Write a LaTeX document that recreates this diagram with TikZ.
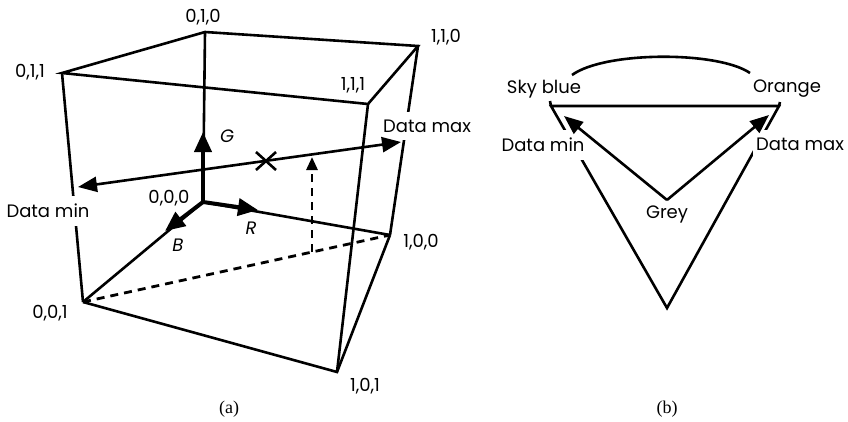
\documentclass[tikz,border=0pt]{standalone}
\usepackage{fontspec}
\setmainfont{Poppins}
\newfontfamily\capfont{Liberation Serif}
\usetikzlibrary{arrows.meta,calc}
\begin{document}
\begin{tikzpicture}[x=1pt,y=-1pt,
  lbl/.style={font=\fontsize{18}{21}\selectfont, inner sep=0pt},
  ilbl/.style={font=\fontsize{18}{21}\selectfont\itshape, inner sep=0pt},
  gaplbl/.style={lbl, fill=white, inner xsep=3pt, inner ysep=8pt},
  caplbl/.style={font=\capfont\fontsize{18}{21}\selectfont, inner sep=0pt},
  edge/.style={line width=2.6pt},
  dashedge/.style={line width=2.8pt, dash pattern=on 8pt off 6pt},
  axisarrow/.style={line width=4pt, -{Triangle[length=20pt,width=17pt]}},
  dataarrow/.style={line width=2.6pt, {Triangle[length=19pt,width=15pt]}-{Triangle[length=19pt,width=15pt]}},
  singlearrow/.style={line width=2.6pt, -{Triangle[length=19pt,width=15pt]}},
  smallarrow/.style={dashedge, -{Triangle[length=13pt,width=11pt]}}
]
\useasboundingbox (0,0) rectangle (848,421);
% ---------- panel (a) ----------
\coordinate (v010) at (205,32);
\coordinate (v110) at (418,46);
\coordinate (v011) at (62,73);
\coordinate (v111) at (368,104);
\coordinate (v000) at (203,202);
\coordinate (v100) at (390,235);
\coordinate (v001) at (83,302);
\coordinate (v101) at (337,372);
\coordinate (gtip) at (203,132);
\coordinate (rtip) at (258,210);
\coordinate (btip) at (165,231);
\coordinate (dmin) at (78,187);
\coordinate (dmax) at (401,142);
\coordinate (cross) at (266,161);
\coordinate (pfoot) at (312,252);
\coordinate (ptop) at (312,157);

\draw[edge] (v011) -- (v010) -- (v110) -- (v111) -- cycle;
\draw[edge] (v001) -- (v101) -- (v100);
\draw[edge] (v011) -- (v001);
\draw[edge] (v111) -- (v101);
\draw[edge] (v110) -- (v100);
\draw[edge] (v010) -- (v000) -- (v100);
\draw[edge] (v000) -- (v001);
\draw[dashedge] (v001) -- (v100);
\draw[smallarrow] (pfoot) -- (ptop);

\node[gaplbl] (ldmin) at (48,211) {Data min};
\node[gaplbl] (ldmax) at (427,126) {Data max};

\draw[dataarrow] (dmin) -- (dmax);
\draw[line width=2.6pt] ($(cross)+(-10,-9)$) -- ($(cross)+(10,9)$);
\draw[line width=2.6pt] ($(cross)+(-10,9)$) -- ($(cross)+(10,-9)$);

\draw[axisarrow] (v000) -- (gtip);
\draw[axisarrow] (v000) -- (rtip);
\draw[axisarrow] (v000) -- (btip);

\node[lbl] (l010) at (203,17) {0,1,0};
\node[lbl] (l110) at (446,37) {1,1,0};
\node[lbl] (l011) at (30,72) {0,1,1};
\node[lbl] (l111) at (353,85) {1,1,1};
\node[ilbl] (lG) at (227,136) {G};
\node[lbl] (l000) at (169,198) {0,0,0};
\node[ilbl] (lR) at (251,228) {R};
\node[ilbl] (lB) at (178,245) {B};
\node[lbl] (l100) at (421,242) {1,0,0};
\node[lbl] (l001) at (50,313) {0,0,1};
\node[lbl] (l101) at (365,386) {1,0,1};
\node[caplbl] (capa) at (229,409) {(a)};

% ---------- panel (b) ----------
\coordinate (tl) at (551,106);
\coordinate (tr) at (779,106);
\coordinate (bt) at (667,308);
\coordinate (tlk) at (550,101);
\coordinate (trk) at (780,102);
\coordinate (grey) at (667,200);
\coordinate (ltip) at (564,116);
\coordinate (rtip2) at (769,115);
\coordinate (arcA) at (572,75);
\coordinate (arcB) at (750,73);

\draw[edge] (tl) -- (tr) -- (bt) -- cycle;
\draw[edge] (tlk) -- (tl);
\draw[edge] (trk) -- (tr);
\draw[edge] (arcA) .. controls (605,51) and (718,51) .. (arcB);

\node[gaplbl] (bdmin) at (543,145) {Data min};
\node[gaplbl] (bdmax) at (800,144) {Data max};

\draw[singlearrow] (grey) -- (ltip);
\draw[singlearrow] (grey) -- (rtip2);

\node[lbl] (sky) at (544,89) {Sky blue};
\node[lbl] (orange) at (787,89) {Orange};
\node[lbl] (lgrey) at (667,214) {Grey};
\node[caplbl] (capb) at (667,409) {(b)};
\end{tikzpicture}
\end{document}
